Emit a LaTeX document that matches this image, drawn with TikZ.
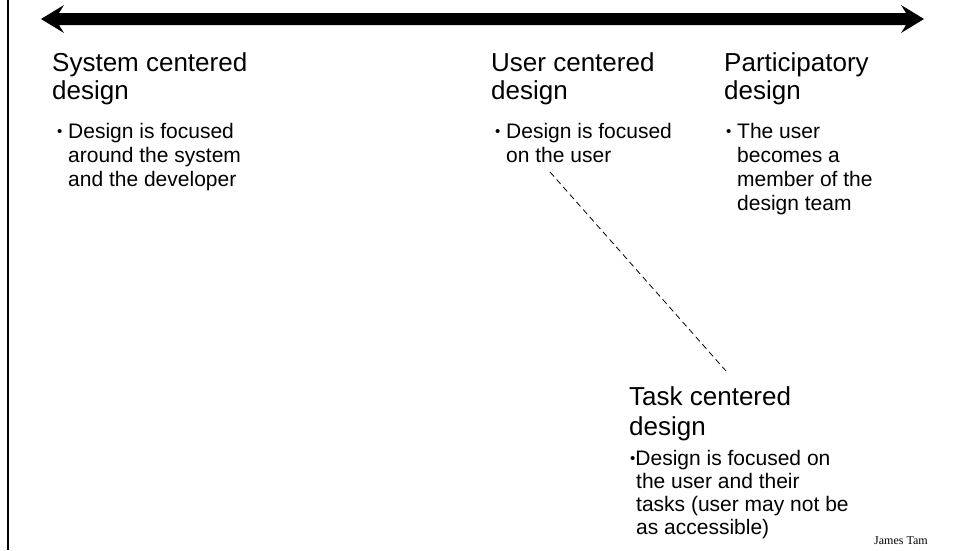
\documentclass[tikz,border=0pt]{standalone}
\usepackage{fontspec}
\setmainfont{Liberation Sans}
\newfontfamily\serifname{Liberation Serif}
\begin{document}
\begin{tikzpicture}[x=1pt,y=-1pt,
  title/.style={anchor=base west,inner sep=0pt,font=\fontsize{26}{28.5}\selectfont},
  tasktitle/.style={anchor=base west,inner sep=0pt,font=\fontsize{26}{30}\selectfont},
  body/.style={anchor=base west,inner sep=0pt,font=\fontsize{21}{24}\selectfont},
  taskbody/.style={anchor=base west,inner sep=0pt,font=\fontsize{21}{23}\selectfont}]
\newcommand{\bul}{{\fontsize{15}{15}\selectfont\raisebox{1.5pt}{•}}}
% bulleted paragraph with a hanging indent; lines are broken with \newline
\newcommand{\hangitem}[3]{\parbox[t]{#1}{\hangindent=#2\hangafter=1\relax
  \makebox[#2][l]{\bul}#3}}
% page frame
\useasboundingbox (0,0) rectangle (955,550);
\fill[white] (0,0) rectangle (955,550);
\draw[line width=2.5pt] (8,0) -- (8,550);
% double-headed spectrum arrow
\fill[black] (41,19) -- (64,5) -- (59,13) -- (906,13) -- (901,5) -- (924,19)
  -- (901,33) -- (906,25) -- (59,25) -- (64,33) -- cycle;
% system centered
\node[title] (sys) at (52,71) {\parbox[t]{220pt}{System centered\\design}};
\node[body] (sysb) at (57,138) {\hangitem{220pt}{11pt}{Design is focused\newline around the system\newline and the developer}};
% user centered
\node[title] (usr) at (491,71) {\parbox[t]{200pt}{User centered\\design}};
\node[body] (usrb) at (495,138) {\hangitem{200pt}{11pt}{Design is focused\newline on the user}};
% participatory
\node[title] (par) at (724,71) {\parbox[t]{200pt}{Participatory\\design}};
\node[body] (parb) at (726,138) {\hangitem{200pt}{11pt}{The user\newline becomes a\newline member of the\newline design team}};
% task centered
\node[tasktitle] (task) at (629,405) {\parbox[t]{250pt}{Task centered\\design}};
\node[taskbody] (taskb) at (630,465) {\parbox[t]{250pt}{\hangindent=6pt\hangafter=1\relax
  \bul Design is focused on\newline the user and their\newline tasks (user may not be\newline as accessible)}};
\node[anchor=base west,inner sep=0pt,font=\serifname\fontsize{12}{13}\selectfont] (author) at (874,544) {James Tam};
% link between user centered and task centered
\coordinate (ls) at (550,172);
\coordinate (le) at (726,371);
\draw[line width=0.8pt,dash pattern=on 6pt off 4pt] (ls) -- (le);
\end{tikzpicture}
\end{document}
